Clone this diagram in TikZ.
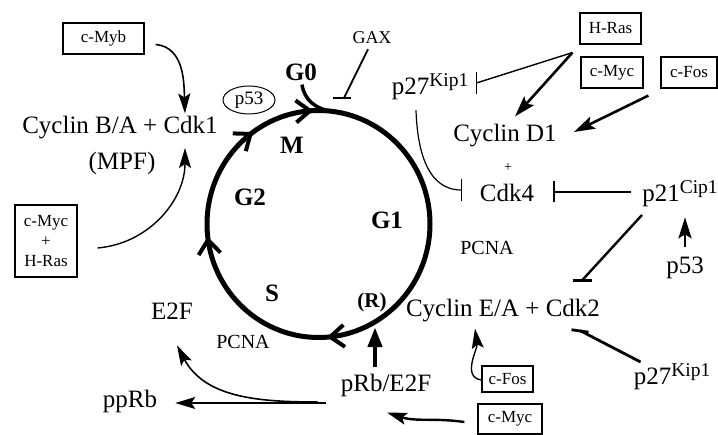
\documentclass[tikz,border=0pt]{standalone}
\usepackage{fontspec}
\setmainfont{Liberation Serif}
\usetikzlibrary{arrows.meta,decorations.markings,shapes.geometric,calc}
\newcommand{\myup}[1]{\raisebox{8pt}{\fontsize{19.5}{20}\selectfont #1}}
\tikzset{chev/.tip={Straight Barb[length=14pt 0 0,width=22pt 0 0,line width=4pt]}}
\begin{document}
\begin{tikzpicture}[x=1pt,y=1pt,
  lab/.style={inner sep=0pt, font=\fontsize{25}{28}\selectfont},
  cyc/.style={inner sep=0pt, font=\fontsize{25}{28}\selectfont\bfseries},
  pcna/.style={inner sep=0pt, font=\fontsize{20}{22}\selectfont},
  box/.style={draw, line width=1.2pt, minimum height=31pt, inner sep=0pt,
    font=\fontsize{17}{20}\selectfont, align=center},
  act/.style={line width=1.6pt, -{Stealth[length=20pt 0 0,width=12pt 0 0,inset=4pt]}},
  thickact/.style={line width=2.6pt, -{Stealth[length=21pt 0 0,width=13pt 0 0,inset=4pt]}},
  inh/.style={line width=1.6pt},
]
\useasboundingbox (0,0) rectangle (718,435);

% cell cycle circle
\draw[line width=5pt, postaction={decorate}, decoration={markings,
   mark=at position 0.238 with {\arrow{chev}},
   mark=at position 0.482 with {\arrow{chev}},
   mark=at position 0.651 with {\arrow{chev}},
   mark=at position 0.7425 with {\arrow{chev}}}]
  (430,211) arc[start angle=0, end angle=-360, x radius=111.5, y radius=113.5];
\coordinate (j0) at (332.1,323.6);

% nodes
\node[box, minimum width=81pt] (cmyb) at (103.5,396.5) {c-Myb};
\node[lab] (cycba) at (120,307) {Cyclin B/A + Cdk1};
\node[lab] (mpf) at (122,272) {(MPF)};
\node[box, minimum width=62pt, minimum height=72pt] (mycras) at (46,194) {c-Myc\\+\\H-Ras};
\node[draw, ellipse, line width=1pt, minimum width=52pt, minimum height=28pt, inner sep=0pt,
      font=\fontsize{19}{20}\selectfont] (p53c) at (249,335) {p53};
\node[cyc] (g0) at (301,363) {G0};
\node[inner sep=0pt, font=\fontsize{18}{20}\selectfont] (gax) at (372,397) {GAX};
\node[cyc] (m) at (292,290) {M};
\node[cyc] (g2) at (250,238) {G2};
\node[cyc] (g1) at (387,215) {G1};
\node[cyc] (s) at (272,142) {S};
\node[inner sep=0pt, font=\fontsize{21}{22}\selectfont\bfseries] (r) at (372,133) {(R)};
\node[pcna] (pcna1) at (243,93) {PCNA};
\node[pcna] (pcna2) at (487,187) {PCNA};
\node[box, minimum width=61pt] (hras) at (610.5,406.5) {H-Ras};
\node[box, minimum width=62pt] (cmyc1) at (612,362.5) {c-Myc};
\node[box, minimum width=56pt] (cfos1) at (689,362.5) {c-Fos};
\node[lab] (p27a) at (430,348) {p27\myup{Kip1}};
\node[lab] (cycd) at (505,299) {Cyclin D1};
\node[inner sep=0pt, font=\fontsize{14}{14}\selectfont] (plus) at (508,267) {+};
\node[lab] (cdk4) at (507,242) {Cdk4};
\node[lab] (p21) at (680,241) {p21\myup{Cip1}};
\node[lab] (p53b) at (685,167) {p53};
\node[lab] (cycea) at (503,124) {Cyclin E/A + Cdk2};
\node[lab] (prb) at (386,50) {pRb/E2F};
\node[box, minimum width=51pt, minimum height=26pt] (cfos2) at (507.5,56) {c-Fos};
\node[box, minimum width=64pt, minimum height=30pt] (cmyc2) at (510,16) {c-Myc};
\node[lab] (p27b) at (672,58) {p27\myup{Kip1}};
\node[lab] (pprb) at (130,34) {ppRb};
\node[lab] (e2f) at (172,124) {E2F};

% G0 branch
\draw[line width=3.5pt] ([shift={(1,-4)}]g0.south) to[out=-82,in=173] (j0);

% connectors
\draw[act] ([shift={(11,-6)}]cmyb.east) to[out=-5,in=92] ([shift={(65,3)}]cycba.north);
\draw[act, line width=1.4pt] ([shift={(20,-7)}]mycras.east) to[out=5,in=-90] ([shift={(63,15)}]mpf.center);

% GAX
\coordinate (gaxe) at (344,337);
\draw[inh, line width=1.8pt] ([shift={(-4,-5)}]gax.south) -- (gaxe);
\draw[inh, line width=1.8pt] ([xshift=-11pt]gaxe) -- ([xshift=7pt]gaxe);

% H-Ras
\coordinate (hr) at ([shift={(-7,-8)}]hras.south west);
\coordinate (p27bar) at ([shift={(8,4)}]p27a.east);
\draw[inh, line width=1.4pt] (hr) -- (p27bar);
\draw[inh, line width=1.4pt] ([yshift=-11pt]p27bar) -- ([yshift=11pt]p27bar);
\draw[thickact] (hr) -- ([shift={(10,8)}]cycd.north);
\draw[thickact] ([shift={(-12,-7)}]cfos1.south west) -- ([shift={(17,4)}]cycd.east);

% p27 -| Cdk4
\coordinate (cdkbar1) at ([shift={(-18.5,3)}]cdk4.west);
\draw[inh, line width=1.2pt] ([shift={(-14,-10)}]p27a.south) to[out=-88,in=180] (cdkbar1);
\draw[inh, line width=1.4pt] ([yshift=-11pt]cdkbar1) -- ([yshift=11pt]cdkbar1);

% p21 -| Cdk4
\coordinate (cdkbar2) at ([shift={(19.5,1)}]cdk4.east);
\draw[inh, line width=2pt] ([shift={(-11,2)}]p21.west) -- (cdkbar2);
\draw[inh, line width=2pt] ([yshift=-10.5pt]cdkbar2) -- ([yshift=10.5pt]cdkbar2);

% p21 -| Cyclin E
\coordinate (cebar1) at ([shift={(79,19)}]cycea.north);
\draw[inh, line width=2.4pt] ([shift={(-38,-21)}]p21.center) -- (cebar1);
\draw[inh, line width=2.4pt] ([xshift=-9.5pt]cebar1) -- ([xshift=9.5pt]cebar1);

% p53 -> p21
\draw[thickact] ([yshift=10pt]p53b.north) -- ([shift={(5,-10)}]p21.south);

% p27 -| Cyclin E
\coordinate (cebar2) at ([shift={(77,-8)}]cycea.south);
\draw[inh, line width=2.8pt] ([shift={(7,15)}]p27b.west) -- (cebar2);
\draw[inh, line width=2.8pt] ([shift={(-8.5,0.8)}]cebar2) -- ([shift={(8.5,-1.6)}]cebar2);

% c-Fos -> Cyclin E
\draw[act, line width=1.4pt] ([shift={(0,-1)}]cfos2.west) to[out=172,in=-82] ([shift={(-28,-6)}]cycea.south);
% c-Myc -> pRb/E2F
\draw[act, line width=2.4pt] ([shift={(-13,-3)}]cmyc2.west) to[out=172,in=-18] ([shift={(1,-16)}]prb.south);
% pRb/E2F -> R
\draw[line width=4.5pt, -{Triangle[length=20pt 0 0,width=14pt 0 0]}] ([shift={(-11,6)}]prb.north) -- ([shift={(3,-15.5)}]r.south);
% pRb/E2F -> ppRb
\draw[act, line width=1.4pt] ([shift={(-15,-18)}]prb.west) -- ([shift={(18,-2)}]pprb.east);
% -> E2F
\draw[act, line width=1.6pt] ([shift={(-23,-17)}]prb.west) to[out=180,in=-62] ([shift={(5,-26)}]e2f.south);
\end{tikzpicture}
\end{document}
